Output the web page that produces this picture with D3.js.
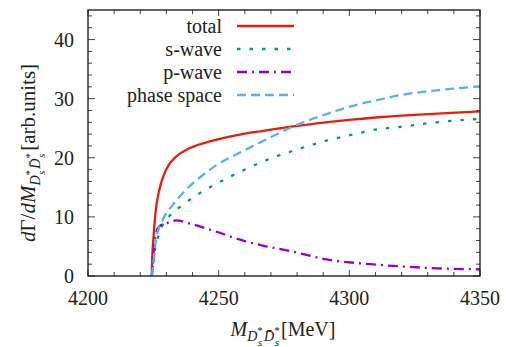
<!DOCTYPE html>
<html>
<head>
  <meta charset="utf-8">
  <title>dGamma/dM D_s* D_s* bar</title>
  <script src="https://d3js.org/d3.v7.min.js"></script>
  <style>
    body { margin: 0; background: #fff; }
  </style>
</head>
<body>
  <svg id="chart" width="506" height="347"></svg>

  <script>
    // Values (M in MeV, dGamma/dM in arb. units)
    const totalData = [
      [4224.4, 0], [4224.5, 2.1], [4225, 6.1], [4225.8, 10.6], [4227.3, 14.6], [4229.9, 18.0],
      [4233.7, 20.2], [4238.8, 21.6], [4247.7, 22.9], [4260, 24.1], [4267.7, 24.6],
      [4278.5, 25.3], [4290, 25.95], [4300, 26.4], [4312, 26.9], [4330, 27.4], [4350, 27.85]
    ];
    const sWaveData = [
      [4224.4, 0], [4225.4, 3.8], [4227.3, 7.2], [4231.1, 10.1], [4236.2, 12.0], [4241.3, 13.6],
      [4248.3, 15.4], [4260, 18.0], [4267.7, 19.5], [4278.6, 21.2], [4291.3, 22.9], [4304, 24.2],
      [4308, 24.6], [4320.7, 25.3], [4333.4, 26], [4350, 26.6]
    ];
    const pWaveData = [
      [4224.4, 0], [4224.9, 2.2], [4225.4, 6.1], [4227.3, 8.4], [4229.9, 8.9], [4233.7, 9.4],
      [4238.8, 8.9], [4247.7, 7.7], [4260, 5.9], [4266.5, 5.2], [4278.6, 4.1], [4291.3, 2.8],
      [4304.1, 2.15], [4308, 2.0], [4320.7, 1.6], [4333.4, 1.3], [4350, 1.13]
    ];
    const phaseSpaceData = [
      [4224.4, 0], [4224.9, 1.6], [4226, 6.1], [4228.6, 9.5], [4232.4, 12.0], [4237.5, 14.6],
      [4242.6, 16.6], [4248.3, 18.5], [4260, 21.3], [4267.7, 23.0], [4278.5, 25.3], [4291.3, 27.4],
      [4304, 29.1], [4312, 29.9], [4320.7, 30.7], [4333.4, 31.4], [4350, 32.1]
    ];

    const seriesNames = ['total', 's-wave', 'p-wave', 'phase space'];
    const seriesData = [totalData, sWaveData, pWaveData, phaseSpaceData];
    const seriesColors = ['#e51e10', '#009e73', '#9400d3', '#56b4e9'];
    const seriesDash = [null, '3.5,9', '10,5,2,5', '9,5'];

    const xTicks = [4200, 4250, 4300, 4350];
    const yTicks = [0, 10, 20, 30, 40];

    const serif = "'Liberation Serif', 'DejaVu Serif', serif";

    // plot frame
    const margin = { top: 10, right: 26, bottom: 71, left: 88 };
    const width = 506 - margin.left - margin.right;
    const height = 347 - margin.top - margin.bottom;

    const x = d3.scaleLinear().domain([4200, 4350]).range([0, width]);
    const y = d3.scaleLinear().domain([0, 45]).range([height, 0]);

    const svg = d3.select('#chart');
    const g = svg.append('g').attr('transform', `translate(${margin.left},${margin.top})`);

    g.append('clipPath').attr('id', 'clip')
      .append('rect').attr('width', width).attr('height', height);

    // minor + major ticks, inward on all four sides
    const xMinor = d3.range(4200, 4351, 10);
    const yMinor = d3.range(0, 45.1, 2);
    const tickCol = '#444';

    g.selectAll('.xt').data(xMinor).enter().append('path')
      .attr('d', d => {
        const L = d % 50 === 0 ? 6 : 4;
        return `M${x(d)},${height}v${-L}M${x(d)},0v${L}`;
      })
      .attr('stroke', tickCol).attr('stroke-width', 1);

    g.selectAll('.yt').data(yMinor).enter().append('path')
      .attr('d', d => {
        const L = d % 10 === 0 ? 7 : 4;
        return `M0,${y(d)}h${L}M${width},${y(d)}h${-L}`;
      })
      .attr('stroke', tickCol).attr('stroke-width', 1);

    // tick labels
    g.selectAll('.xl').data(xTicks).enter().append('text')
      .attr('x', d => x(d)).attr('y', height + 29)
      .attr('text-anchor', 'middle')
      .style('font-family', serif).style('font-size', '20px').style('fill', '#222')
      .text(d => d);

    g.selectAll('.yl').data(yTicks).enter().append('text')
      .attr('x', -14).attr('y', d => y(d)).attr('dy', '0.35em')
      .attr('text-anchor', 'end')
      .style('font-family', serif).style('font-size', '20px').style('fill', '#222')
      .text(d => d);

    // curves
    const line = d3.line()
      .x(d => x(d[0])).y(d => y(d[1]))
      .curve(d3.curveMonotoneX);

    const curves = g.append('g').attr('clip-path', 'url(#clip)');
    seriesData.forEach((data, i) => {
      curves.append('path')
        .datum(data)
        .attr('d', line)
        .attr('fill', 'none')
        .attr('stroke', seriesColors[i])
        .attr('stroke-width', 2.3)
        .attr('stroke-dasharray', seriesDash[i]);
    });

    // legend
    const legend = g.append('g');
    const legendY = [16, 39, 62, 85];
    seriesNames.forEach((name, i) => {
      legend.append('text')
        .attr('x', 134).attr('y', legendY[i]).attr('dy', '0.35em')
        .attr('text-anchor', 'end')
        .style('font-family', serif).style('font-size', '20px').style('fill', '#222')
        .text(name);
      legend.append('line')
        .attr('x1', 149).attr('x2', 206)
        .attr('y1', legendY[i]).attr('y2', legendY[i])
        .attr('stroke', seriesColors[i])
        .attr('stroke-width', 2.3)
        .attr('stroke-dasharray', seriesDash[i]);
    });

    // frame
    g.append('rect')
      .attr('width', width).attr('height', height)
      .attr('fill', 'none').attr('stroke', '#111').attr('stroke-width', 1.3);

    // subscript block D*_s \bar D*_s appended as tspans
    function addSub(t) {
      t.append('tspan').attr('dy', 5).style('font-size', '14px').style('font-style', 'italic').text('D');
      t.append('tspan').attr('dy', -7).style('font-size', '11px').text('*');
      t.append('tspan').attr('dx', -5).attr('dy', 12).style('font-size', '11px').style('font-style', 'italic').text('s');
      t.append('tspan').attr('dx', 2).attr('dy', -5).style('font-size', '14px').style('font-style', 'italic').text('D\u0304');
      t.append('tspan').attr('dy', -7).style('font-size', '11px').text('*');
      t.append('tspan').attr('dx', -5).attr('dy', 12).style('font-size', '11px').style('font-style', 'italic').text('s');
    }

    // x-axis label: M_{D_s^* \bar D_s^*} [MeV]
    const xl = svg.append('text')
      .attr('x', 283).attr('y', 336)
      .attr('text-anchor', 'middle')
      .style('font-family', serif).style('font-size', '20px').style('fill', '#222');
    xl.append('tspan').style('font-style', 'italic').text('M');
    addSub(xl);
    xl.append('tspan').attr('dx', 2).attr('dy', -10).text('[MeV]');

    // y-axis label: dGamma/dM_{D_s^* \bar D_s^*} [arb.units]
    const yl = svg.append('text')
      .attr('transform', 'translate(35,153) rotate(-90)')
      .attr('text-anchor', 'middle')
      .style('font-family', serif).style('font-size', '21px').style('fill', '#222');
    yl.append('tspan').style('font-style', 'italic').text('d');
    yl.append('tspan').text('\u0393/');
    yl.append('tspan').style('font-style', 'italic').text('dM');
    addSub(yl);
    yl.append('tspan').attr('dx', 3).attr('dy', -10).text('[arb.units]');
  </script>
</body>
</html>
